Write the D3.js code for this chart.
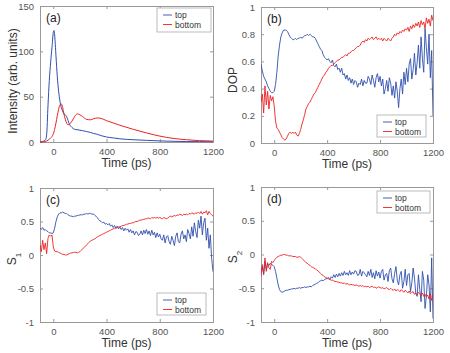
<!DOCTYPE html>
<html>
<head>
<meta charset="utf-8">
<script src="https://cdn.jsdelivr.net/npm/d3@7"></script>
<style>
  body { margin: 0; background: #fff; }
  svg { display: block; font-family: "Liberation Sans", Arial, sans-serif; }
  .tick text { fill: #555; font-size: 9.5px; }
  .tick line, .domain { stroke: #999; }
</style>
</head>
<body>
<div id="chart"></div>
<script>
// panel (a): intensity, irregular time samples
const aTime = [-100,-80,-60,-50,-40,-30,-20,-10,0,5,10,20,30,40,50,60,70,80,90,100,110,120,140,160,180,200,220,250,280,300,330,360,400,450,500,600,700,800,900,1000,1100,1200];
const aTop = [0,0.5,2,8,40,68,88,104,121,123,118,95,72,56,45,38,34,31,30,28,24,20,16,14,13.5,13,12.5,11.5,10.5,9.5,8.5,7,5.5,4.5,3.5,2.5,1.8,1.2,0.8,0.5,0.4,0.3];
const aBottom = [0,0.2,0.5,1,2,3,4.5,6,9,11,14,21,29,36,41,42,38,31,25,21,19,19.5,23,28,31,30,28,25,24.5,25.5,26.5,26,23.5,21,18.5,14,10,6.5,4,2.5,1.5,1];

// panels (b)-(d): 10 ps sampling from -100 to 1200 ps
const tGrid = d3.range(-100, 1201, 10);

const dopTop = [
  0.58,0.53,0.49,0.47,0.45,0.42,0.40,0.38,0.37,0.37,
  0.38,0.43,0.52,0.64,0.72,0.78,0.81,0.83,0.83,0.83,
  0.82,0.80,0.78,0.77,0.76,0.76,0.77,0.76,0.77,0.77,
  0.78,0.77,0.78,0.79,0.79,0.80,0.79,0.80,0.79,0.78,
  0.78,0.77,0.75,0.73,0.71,0.69,0.68,0.65,0.63,0.62,
  0.61,0.62,0.60,0.59,0.61,0.57,0.56,0.58,0.54,0.55,
  0.52,0.55,0.50,0.51,0.47,0.50,0.46,0.48,0.44,0.47,
  0.43,0.46,0.45,0.41,0.44,0.43,0.47,0.42,0.46,0.44,
  0.44,0.49,0.47,0.43,0.50,0.46,0.41,0.48,0.51,0.45,
  0.49,0.42,0.47,0.36,0.40,0.46,0.38,0.48,0.44,0.35,
  0.42,0.33,0.45,0.38,0.26,0.40,0.47,0.36,0.52,0.43,
  0.55,0.45,0.58,0.62,0.47,0.54,0.66,0.50,0.59,0.72,
  0.55,0.78,0.62,0.52,0.84,0.70,0.58,0.80,0.48,0.68,
  0.20];
const dopBottom = [
  0.30,0.36,0.22,0.42,0.28,0.38,0.25,0.35,0.31,0.34,
  0.27,0.16,0.11,0.10,0.08,0.06,0.04,0.03,0.02,0.03,
  0.05,0.07,0.08,0.07,0.08,0.07,0.08,0.06,0.05,0.07,
  0.10,0.14,0.17,0.21,0.25,0.27,0.29,0.30,0.32,0.34,
  0.36,0.37,0.39,0.41,0.43,0.45,0.47,0.49,0.50,0.52,
  0.53,0.55,0.56,0.57,0.57,0.58,0.59,0.60,0.61,0.61,
  0.62,0.63,0.63,0.64,0.65,0.64,0.66,0.66,0.67,0.68,
  0.68,0.69,0.70,0.71,0.71,0.72,0.74,0.75,0.74,0.76,
  0.75,0.77,0.76,0.77,0.78,0.76,0.77,0.78,0.76,0.77,
  0.76,0.77,0.75,0.77,0.76,0.75,0.77,0.76,0.75,0.77,
  0.78,0.80,0.79,0.81,0.80,0.82,0.81,0.83,0.82,0.84,
  0.83,0.85,0.82,0.86,0.84,0.87,0.85,0.88,0.86,0.89,
  0.85,0.90,0.87,0.89,0.84,0.92,0.88,0.91,0.86,0.94,
  0.90];

const s1Top = [
  0.40,0.38,0.41,0.37,0.38,0.36,0.35,0.33,0.33,0.32,
  0.33,0.40,0.50,0.57,0.61,0.63,0.63,0.64,0.63,0.62,
  0.62,0.60,0.59,0.58,0.58,0.57,0.58,0.58,0.59,0.59,
  0.60,0.60,0.60,0.61,0.61,0.62,0.61,0.62,0.62,0.61,
  0.61,0.60,0.58,0.56,0.53,0.51,0.50,0.48,0.49,0.46,
  0.47,0.45,0.47,0.43,0.45,0.41,0.44,0.40,0.43,0.39,
  0.42,0.38,0.41,0.36,0.40,0.37,0.39,0.34,0.38,0.33,
  0.36,0.30,0.35,0.34,0.29,0.31,0.36,0.30,0.37,0.32,
  0.38,0.31,0.36,0.29,0.37,0.30,0.34,0.26,0.33,0.27,
  0.31,0.24,0.22,0.30,0.18,0.27,0.29,0.20,0.16,0.28,
  0.22,0.14,0.28,0.33,0.20,0.18,0.31,0.36,0.24,0.30,
  0.20,0.38,0.32,0.24,0.42,0.28,0.48,0.35,0.26,0.52,
  0.40,0.58,0.30,0.48,0.55,0.22,0.40,0.10,0.30,-0.05,
  -0.25];
const s1Bottom = [
  0.15,0.05,0.22,0.08,0.18,0.02,0.25,0.30,0.28,0.30,
  0.12,0.06,0.05,0.05,0.04,0.03,0.02,0.01,0.01,0.00,
  0.00,0.01,0.02,0.03,0.03,0.04,0.04,0.04,0.03,0.04,
  0.05,0.07,0.09,0.11,0.13,0.15,0.17,0.19,0.21,0.22,
  0.23,0.24,0.25,0.27,0.28,0.29,0.30,0.31,0.32,0.33,
  0.34,0.35,0.36,0.37,0.38,0.39,0.40,0.40,0.41,0.42,
  0.42,0.43,0.44,0.44,0.45,0.46,0.46,0.47,0.47,0.48,
  0.48,0.49,0.50,0.50,0.51,0.52,0.52,0.53,0.53,0.54,
  0.54,0.55,0.55,0.54,0.56,0.55,0.56,0.55,0.56,0.55,
  0.56,0.55,0.54,0.56,0.55,0.54,0.55,0.57,0.58,0.57,
  0.58,0.59,0.58,0.60,0.59,0.61,0.60,0.59,0.61,0.60,
  0.61,0.60,0.62,0.61,0.63,0.62,0.61,0.63,0.62,0.64,
  0.62,0.65,0.61,0.64,0.63,0.66,0.60,0.65,0.62,0.60,
  0.58];

const s2Top = [
  -0.25,-0.18,-0.30,-0.10,-0.22,-0.14,-0.16,-0.13,-0.15,-0.16,
  -0.18,-0.25,-0.35,-0.45,-0.52,-0.55,-0.56,-0.55,-0.54,-0.53,
  -0.53,-0.52,-0.52,-0.51,-0.51,-0.50,-0.51,-0.50,-0.50,-0.49,
  -0.50,-0.49,-0.49,-0.48,-0.49,-0.48,-0.48,-0.47,-0.48,-0.46,
  -0.45,-0.44,-0.43,-0.42,-0.40,-0.39,-0.38,-0.39,-0.37,-0.36,
  -0.36,-0.34,-0.37,-0.33,-0.35,-0.30,-0.34,-0.29,-0.33,-0.28,
  -0.32,-0.27,-0.31,-0.25,-0.30,-0.27,-0.31,-0.24,-0.30,-0.26,
  -0.29,-0.24,-0.25,-0.31,-0.30,-0.22,-0.32,-0.25,-0.27,-0.30,
  -0.33,-0.25,-0.31,-0.22,-0.34,-0.27,-0.36,-0.24,-0.32,-0.26,
  -0.35,-0.25,-0.22,-0.38,-0.30,-0.28,-0.40,-0.24,-0.20,-0.36,
  -0.42,-0.28,-0.18,-0.38,-0.45,-0.30,-0.25,-0.50,-0.40,-0.22,
  -0.46,-0.30,-0.28,-0.55,-0.42,-0.20,-0.35,-0.58,-0.62,-0.30,
  -0.52,-0.70,-0.25,-0.38,-0.80,-0.62,-0.30,-0.45,-0.85,-0.05,
  -0.95];
const s2Bottom = [
  -0.32,-0.15,-0.28,-0.05,-0.25,-0.12,-0.20,-0.22,-0.10,-0.12,
  -0.09,-0.06,-0.04,-0.03,-0.02,-0.01,-0.01,0.00,0.00,-0.01,
  -0.01,-0.02,-0.02,-0.02,-0.03,-0.03,-0.03,-0.04,-0.04,-0.03,
  -0.04,-0.06,-0.08,-0.10,-0.12,-0.13,-0.15,-0.16,-0.18,-0.19,
  -0.20,-0.21,-0.23,-0.24,-0.26,-0.28,-0.30,-0.31,-0.33,-0.34,
  -0.35,-0.36,-0.37,-0.38,-0.38,-0.39,-0.40,-0.40,-0.41,-0.41,
  -0.42,-0.42,-0.43,-0.42,-0.44,-0.43,-0.44,-0.45,-0.44,-0.45,
  -0.45,-0.46,-0.45,-0.46,-0.47,-0.46,-0.47,-0.46,-0.48,-0.47,
  -0.48,-0.47,-0.49,-0.48,-0.47,-0.49,-0.48,-0.50,-0.49,-0.48,
  -0.49,-0.50,-0.49,-0.51,-0.50,-0.49,-0.51,-0.52,-0.50,-0.52,
  -0.53,-0.51,-0.54,-0.52,-0.53,-0.55,-0.52,-0.54,-0.56,-0.53,
  -0.55,-0.57,-0.54,-0.58,-0.56,-0.55,-0.59,-0.57,-0.60,-0.56,
  -0.58,-0.61,-0.57,-0.62,-0.59,-0.63,-0.60,-0.66,-0.58,-0.68,
  -0.62];

const xTicks = [0, 400, 800, 1200];
const seriesNames = ['top', 'bottom'];
const blue = '#2f4fae';
const red = '#ee2020';

const svg = d3.select('#chart').append('svg')
  .attr('width', 450)
  .attr('height', 353);

function drawPanel(p) {
  const x = d3.scaleLinear().domain([-100, 1200]).range([p.x0, p.x1]);
  const y = d3.scaleLinear().domain(p.yDomain).range([p.y1, p.y0]);
  const g = svg.append('g');
  const fmt = d => String(+d.toFixed(2));

  // frame with inward ticks on all four sides
  g.append('g').attr('transform', `translate(0,${p.y1})`)
    .call(d3.axisBottom(x).tickValues(xTicks).tickSize(-3).tickPadding(6).tickFormat(fmt));
  g.append('g').attr('transform', `translate(0,${p.y0})`)
    .call(d3.axisTop(x).tickValues(xTicks).tickSize(-3).tickFormat(''));
  g.append('g').attr('transform', `translate(${p.x0},0)`)
    .call(d3.axisLeft(y).tickValues(p.yTicks).tickSize(-3).tickPadding(6).tickFormat(fmt));
  g.append('g').attr('transform', `translate(${p.x1},0)`)
    .call(d3.axisRight(y).tickValues(p.yTicks).tickSize(-3).tickFormat(''));
  g.selectAll('.domain').attr('stroke', '#999');

  const line = d3.line()
    .x(d => x(d[0]))
    .y(d => y(d[1]))
    .curve(p.smooth ? d3.curveMonotoneX : d3.curveLinear);

  const clipId = 'clip' + p.tag;
  svg.append('clipPath').attr('id', clipId)
    .append('rect').attr('x', p.x0).attr('y', p.y0 - 1)
    .attr('width', p.x1 - p.x0).attr('height', p.y1 - p.y0 + 2);

  const plot = g.append('g').attr('clip-path', `url(#${clipId})`);
  [[p.top, blue], [p.bottom, red]].forEach(([vals, col]) => {
    plot.append('path')
      .datum(vals.map((v, i) => [p.time[i], v]))
      .attr('fill', 'none')
      .attr('stroke', col)
      .attr('stroke-width', p.smooth ? 1 : 0.9)
      .attr('stroke-linejoin', 'round')
      .attr('d', line);
  });

  // panel tag
  g.append('text')
    .attr('x', p.x0 + 6).attr('y', p.y0 + 16)
    .attr('font-size', 12).attr('fill', '#222')
    .text(`(${p.tag})`);

  // x label
  g.append('text')
    .attr('x', (p.x0 + p.x1) / 2).attr('y', p.y1 + 25)
    .attr('text-anchor', 'middle')
    .attr('font-size', 12).attr('fill', '#333')
    .text('Time (ps)');

  // y label
  const yl = g.append('text')
    .attr('transform', `translate(${p.yLabelX},${p.yLabelY}) rotate(-90)`)
    .attr('text-anchor', 'middle')
    .attr('font-size', 12).attr('fill', '#333')
    .text(p.yLabel);
  if (p.ySub) {
    yl.append('tspan').attr('font-size', 8).attr('baseline-shift', 'sub').text(p.ySub);
  }

  // legend
  const L = p.legend;
  const lg = g.append('g');
  lg.append('rect')
    .attr('x', L.x).attr('y', L.y).attr('width', L.w).attr('height', L.h)
    .attr('fill', '#fff').attr('stroke', '#aaa').attr('stroke-width', 0.8);
  seriesNames.forEach((name, i) => {
    const yy = L.y + 7 + i * 9.5;
    lg.append('line')
      .attr('x1', L.x + 6).attr('x2', L.x + 15)
      .attr('y1', yy).attr('y2', yy)
      .attr('stroke', i === 0 ? blue : red).attr('stroke-width', 0.9);
    lg.append('text')
      .attr('x', L.x + 18).attr('y', yy + 3)
      .attr('font-size', 8.5).attr('fill', '#333')
      .text(name);
  });
}

drawPanel({
  tag: 'a', x0: 40, x1: 213, y0: 6, y1: 142,
  yDomain: [0, 150], yTicks: [0, 50, 100, 150],
  time: aTime, top: aTop, bottom: aBottom, smooth: true,
  yLabel: 'Intensity (arb. units)', yLabelX: 17, yLabelY: 81,
  legend: {x: 157, y: 8, w: 54, h: 24}
});
drawPanel({
  tag: 'b', x0: 261, x1: 433, y0: 7, y1: 143,
  yDomain: [0, 1], yTicks: [0, 0.2, 0.4, 0.6, 0.8, 1],
  time: tGrid, top: dopTop, bottom: dopBottom,
  yLabel: 'DOP', yLabelX: 237, yLabelY: 80,
  legend: {x: 377, y: 115, w: 49, h: 22}
});
drawPanel({
  tag: 'c', x0: 40, x1: 213, y0: 188, y1: 322,
  yDomain: [-1, 1], yTicks: [-1, -0.5, 0, 0.5, 1],
  time: tGrid, top: s1Top, bottom: s1Bottom,
  yLabel: 'S', ySub: '1', yLabelX: 16, yLabelY: 259,
  legend: {x: 157, y: 293, w: 49, h: 22}
});
drawPanel({
  tag: 'd', x0: 261, x1: 433, y0: 187, y1: 322,
  yDomain: [-1, 1], yTicks: [-1, -0.5, 0, 0.5, 1],
  time: tGrid, top: s2Top, bottom: s2Bottom,
  yLabel: 'S', ySub: '2', yLabelX: 237, yLabelY: 257,
  legend: {x: 377, y: 191, w: 53, h: 22}
});
</script>
</body>
</html>
